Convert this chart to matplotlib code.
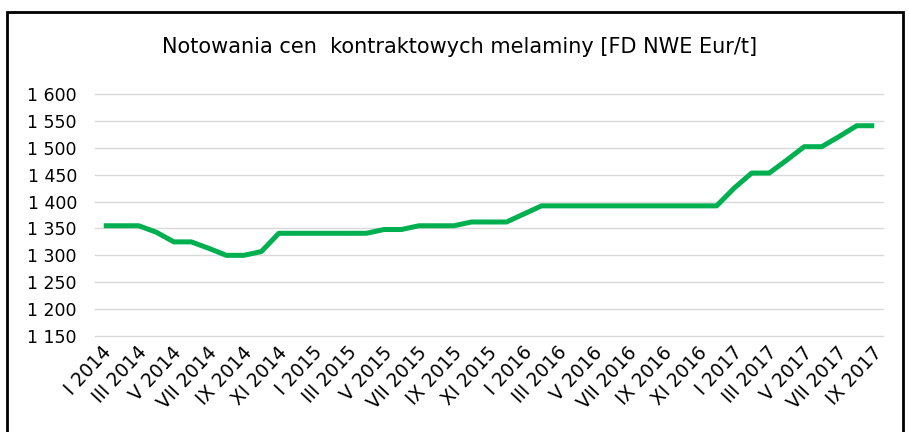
import matplotlib
matplotlib.use('Agg')
from matplotlib import pyplot as plt
from matplotlib.patches import Rectangle
from matplotlib.transforms import ScaledTranslation

# monthly contract prices, I 2014 .. IX 2017
months = ['I', 'II', 'III', 'IV', 'V', 'VI', 'VII', 'VIII', 'IX', 'X', 'XI', 'XII']
years = [2014, 2015, 2016, 2017]
labels = [f'{m} {y}' for y in years for m in months][:45]

prices = [1355, 1355, 1355, 1343, 1325, 1325, 1313, 1300, 1300, 1307, 1341, 1341,
          1341, 1341, 1341, 1341, 1348, 1348, 1355, 1355, 1355, 1362, 1362, 1362,
          1377, 1392, 1392, 1392, 1392, 1392, 1392, 1392, 1392, 1392, 1392, 1392,
          1425, 1453, 1453, 1477, 1502, 1502, 1521, 1541, 1541]

yticks = [1150, 1200, 1250, 1300, 1350, 1400, 1450, 1500, 1550, 1600]
ytick_labels = ['1 150', '1 200', '1 250', '1 300', '1 350',
                '1 400', '1 450', '1 500', '1 550', '1 600']

plt.rcParams['font.family'] = ['DejaVu Sans']

fig = plt.figure(figsize=(9.09, 4.32), dpi=100)
ax = fig.add_axes([95 / 909, 1 - 336 / 432, 788 / 909, 242 / 432])

x = list(range(len(prices)))
ax.plot(x, prices, color='#00B050', linewidth=3.6, solid_capstyle='butt',
        solid_joinstyle='round', zorder=3)

ax.set_ylim(1150, 1600)
ax.set_xlim(-0.5, len(prices) - 0.5)
ax.set_yticks(yticks)
ax.set_yticklabels(ytick_labels)
ax.set_xticks(x[::2])
ax.set_xticklabels(labels[::2], rotation=47, ha='right', rotation_mode='anchor')
ax.tick_params(axis='both', length=0, colors='black')
ax.tick_params(axis='y', pad=13, labelsize=12.5)
ax.tick_params(axis='x', pad=5, labelsize=13.5)
shift = ScaledTranslation(-2 / 100, 0, fig.dpi_scale_trans)
for lab in ax.get_xticklabels():
    lab.set_transform(lab.get_transform() + shift)

for v in yticks:
    ax.axhline(v, color='#D9D9D9', linewidth=1, zorder=1, clip_on=False)
for s in ax.spines.values():
    s.set_visible(False)

fig.text(0.506, 1 - 47 / 432, 'Notowania cen  kontraktowych melaminy [FD NWE Eur/t]',
         ha='center', va='center', fontsize=15)

# outer frame of the chart
fig.patches.append(Rectangle((7 / 909, -0.1), 896 / 909, 1.1 - 12 / 432,
                             transform=fig.transFigure, fill=False,
                             edgecolor='black', linewidth=2))

fig.savefig('out.png', dpi=100)
